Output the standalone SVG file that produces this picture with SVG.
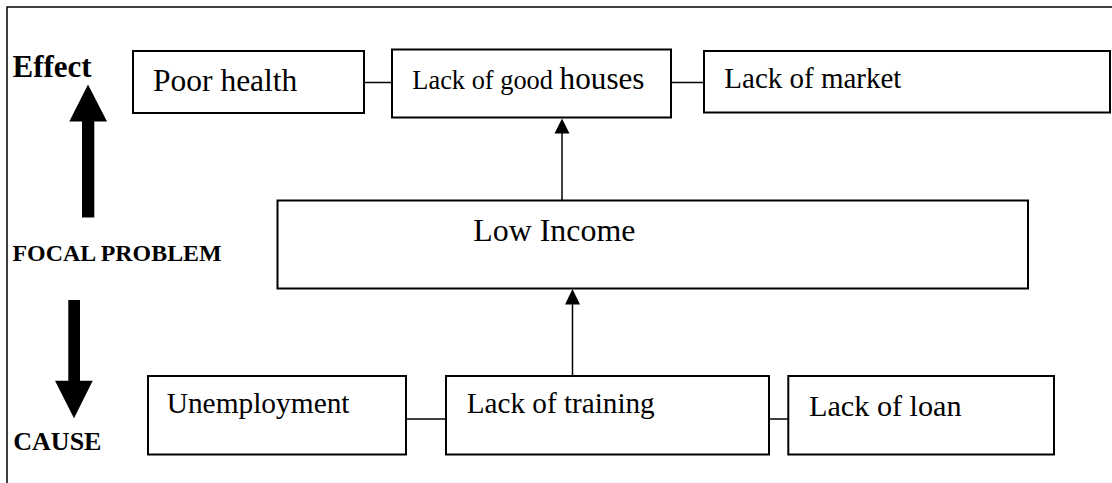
<svg xmlns="http://www.w3.org/2000/svg" width="1112" height="483" viewBox="0 0 1112 483">
<defs>
<style>
.box{fill:#fff;stroke:#000;stroke-width:2}
text{font-family:'Liberation Serif','Times New Roman','DejaVu Serif',serif;fill:#000}
.b{font-weight:bold}
.ln{stroke:#000;stroke-width:1.5;fill:none}
.head{fill:#000;stroke:none}
</style>
</defs>
<rect width="1112" height="483" fill="#fff"/>
<path d="M7,483 L7,7 L1112,7" fill="none" stroke="#000" stroke-width="1.5"/>
<g id="legend">
<text class="b" x="12.5" y="77" font-size="31">Effect</text>
<path d="M88,84.5 L107,121.5 L94.3,121.5 L94.3,217.5 L82,217.5 L82,121.5 L69.3,121.5 Z" fill="#000"/>
<text class="b" x="12.5" y="260.5" font-size="23.9">FOCAL PROBLEM</text>
<path d="M68.3,300 L80,300 L80,380.7 L92.7,380.7 L74,418.3 L55,380.7 L68.3,380.7 Z" fill="#000"/>
<text class="b" x="13.3" y="450" font-size="26">CAUSE</text>
</g>
<g id="connectors">
<line class="ln" x1="364" y1="82.5" x2="392" y2="82.5"/>
<line class="ln" x1="671" y1="82.5" x2="704" y2="82.5"/>
<line class="ln" x1="406" y1="419" x2="446" y2="419"/>
<line class="ln" x1="769" y1="419" x2="788" y2="419"/>
<line class="ln" x1="562" y1="200" x2="562" y2="130"/>
<polygon class="head" points="562,118.5 569.5,133.5 554.5,133.5"/>
<line class="ln" x1="572.5" y1="376" x2="572.5" y2="300"/>
<polygon class="head" points="572.5,289 580,304.5 565,304.5"/>
</g>
<g id="poor-health">
<rect class="box" x="133" y="51" width="231" height="62"/>
<text x="153" y="90.5" font-size="31.5">Poor health</text>
</g>
<g id="lack-of-good-houses">
<rect class="box" x="392" y="49.5" width="279" height="68"/>
<text x="412.3" y="89.3"><tspan font-size="26.4">Lack of good </tspan><tspan font-size="31.2">houses</tspan></text>
</g>
<g id="lack-of-market">
<rect class="box" x="704" y="51" width="406" height="61.5"/>
<text x="724.3" y="88.3" font-size="29">Lack of market</text>
</g>
<g id="low-income">
<rect class="box" x="277.5" y="200.5" width="750.5" height="88"/>
<text x="473.3" y="240.7" font-size="31.9">Low Income</text>
</g>
<g id="unemployment">
<rect class="box" x="148" y="376" width="258" height="78.5"/>
<text x="166.7" y="413.3" font-size="29.4">Unemployment</text>
</g>
<g id="lack-of-training">
<rect class="box" x="446" y="376" width="323" height="78.5"/>
<text x="466.7" y="413.3" font-size="29.2">Lack of training</text>
</g>
<g id="lack-of-loan">
<rect class="box" x="788.3" y="376" width="265.7" height="78.5"/>
<text x="809" y="416" font-size="30.2">Lack of loan</text>
</g>
</svg>
